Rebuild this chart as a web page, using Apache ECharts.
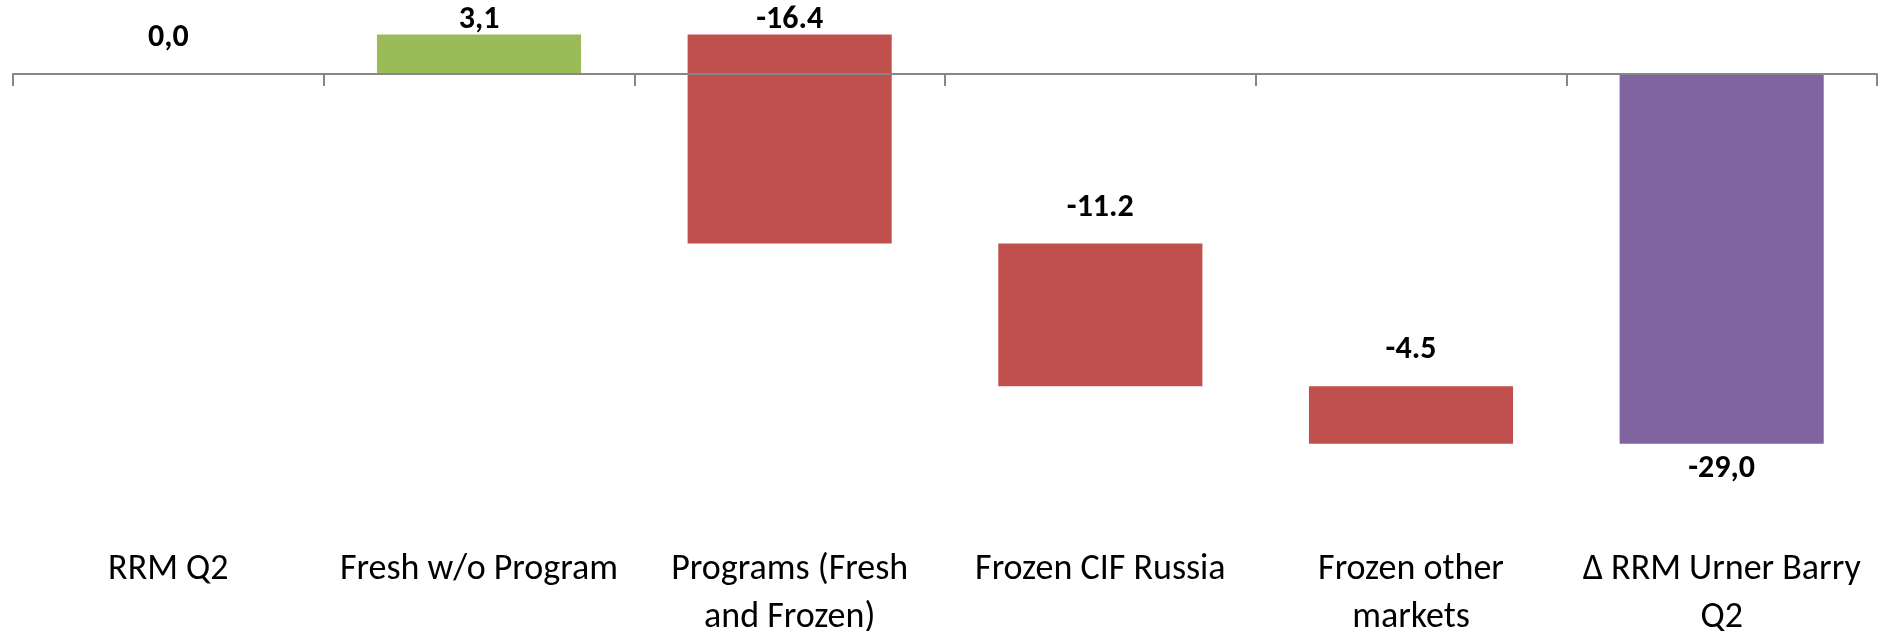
<!DOCTYPE html>
<html><head><meta charset="utf-8">
<script src="https://cdn.jsdelivr.net/npm/echarts@6/dist/echarts.min.js"></script>
<style>html,body{margin:0;padding:0;background:#fff}#c{width:1884px;height:631px}</style>
</head><body><div id="c"></div>
<script>
const categories = ['RRM Q2', 'Fresh w/o Program', 'Programs (Fresh\nand Frozen)', 'Frozen CIF Russia', 'Frozen other\nmarkets', 'Δ RRM Urner Barry\nQ2'];
const changes = [0.0, 3.1, -16.4, -11.2, -4.5, -29.0];
const kinds = ['total', 'step', 'step', 'step', 'step', 'total'];
const labelTexts = ['0,0', '3,1', '-16.4', '-11.2', '-4.5', '-29,0'];

const labelOffsets = [-36, -14, -14, -36, -36, 25];
const colors = { up: '#9BBB59', down: '#C0504D', total: '#8064A2' };

let run = 0;
const bars = [];
changes.forEach((v, i) => {
  let s, e;
  if (kinds[i] === 'total') { s = 0; e = v; run = v; }
  else { s = run; e = run + v; run = e; }
  bars.push([i, s, e]);
});

const chart = echarts.init(document.getElementById('c'), null, { renderer: 'canvas' });
chart.setOption({
  animation: false,
  backgroundColor: '#fff',
  grid: { left: 13, right: 7, top: 10.26, height: 522.67, containLabel: false, outerBoundsMode: 'none' },
  xAxis: [
    {
      type: 'category', data: categories, position: 'bottom', boundaryGap: true, z: 10,
      axisLine: { show: true, onZero: true, lineStyle: { color: '#878787', width: 2 } },
      axisTick: { show: true, length: 12, lineStyle: { color: '#878787', width: 2 } },
      axisLabel: { show: false }, splitLine: { show: false }
    },
    {
      type: 'category', data: categories, position: 'bottom', boundaryGap: true,
      axisLine: { show: false, onZero: false }, axisTick: { show: false }, splitLine: { show: false },
      axisLabel: { show: true, interval: 0, margin: 13, fontFamily: 'Carlito', fontSize: 36, lineHeight: 48, color: '#000' }
    }
  ],
  yAxis: {
    type: 'value', min: -36, max: 5, show: true,
    axisLine: { show: false }, axisTick: { show: false }, axisLabel: { show: false }, splitLine: { show: false }
  },
  series: [{
    type: 'custom', xAxisIndex: 0, yAxisIndex: 0, z: 2,
    data: bars,
    encode: { x: 0, y: [1, 2] },
    renderItem: function (params, api) {
      const i = api.value(0), s = api.value(1), e = api.value(2);
      const p1 = api.coord([i, s]), p2 = api.coord([i, e]);
      const band = api.size([1, 0])[0];
      const w = band * 0.657;
      const top = Math.min(p1[1], p2[1]), bot = Math.max(p1[1], p2[1]);
      const color = kinds[i] === 'total' ? colors.total : (e >= s ? colors.up : colors.down);
      const children = [];
      if (bot - top > 0.5) {
        children.push({ type: 'rect', shape: { x: p1[0] - w / 2, y: top, width: w, height: bot - top }, style: { fill: color } });
      }
      const anchor = labelOffsets[i] > 0 ? bot : top;
      children.push({
        type: 'text', z2: 5,
        style: { text: labelTexts[i], x: p1[0], y: anchor + labelOffsets[i], align: 'center', verticalAlign: 'middle',
          fontFamily: 'Carlito', fontWeight: 'bold', fontSize: 32, fill: '#000' }
      });
      return { type: 'group', children: children };
    }
  }]
});
</script></body></html>
